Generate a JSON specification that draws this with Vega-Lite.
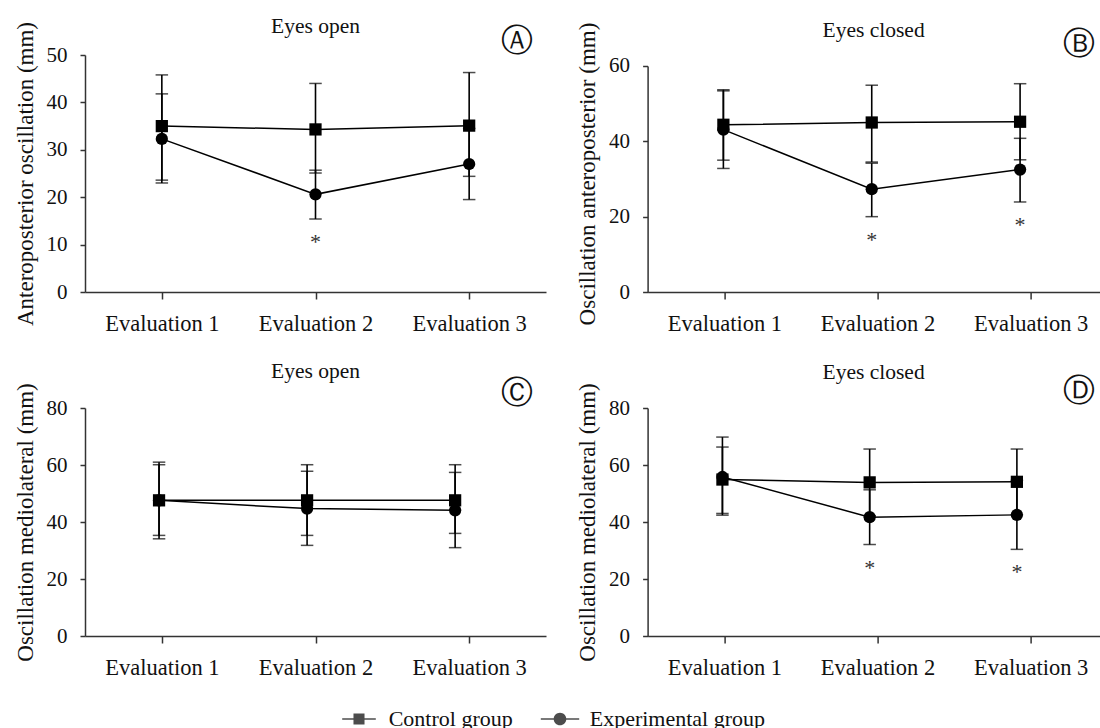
{
  "$schema": "https://vega.github.io/schema/vega-lite/v6.json",
  "padding": {"left": 13, "top": 15, "right": 0, "bottom": 0},
  "config": {
    "font": "Liberation Serif",
    "view": {"stroke": null},
    "axis": {"grid": false, "labelFontSize": 21, "labelColor": "#111", "titleColor": "#111", "domainColor": "#333", "tickColor": "#333", "titleFontWeight": "normal", "titleFontSize": 23, "domainWidth": 1.5, "tickWidth": 1.5, "labelFont": "Liberation Serif", "titleFont": "Liberation Serif"},
    "axisX": {"labelFontSize": 22.5},
    "title": {"fontSize": 21.5, "fontWeight": "normal", "font": "Liberation Serif", "color": "#111", "frame": "group", "baseline": "alphabetic"},
    "legend": {"layout": {"bottom": {"anchor": "middle"}}}
  },
  "datasets": {
    "rows": [
      {"panel": "A", "eval": "Evaluation 1", "group": "Control group", "mean": 35.0, "lo": 23.6, "hi": 45.8, "sig": ""},
      {"panel": "A", "eval": "Evaluation 2", "group": "Control group", "mean": 34.3, "lo": 25.1, "hi": 44.0, "sig": ""},
      {"panel": "A", "eval": "Evaluation 3", "group": "Control group", "mean": 35.1, "lo": 24.4, "hi": 46.3, "sig": ""},
      {"panel": "A", "eval": "Evaluation 1", "group": "Experimental group", "mean": 32.3, "lo": 23.0, "hi": 41.8, "sig": ""},
      {"panel": "A", "eval": "Evaluation 2", "group": "Experimental group", "mean": 20.6, "lo": 15.4, "hi": 25.7, "sig": "*"},
      {"panel": "A", "eval": "Evaluation 3", "group": "Experimental group", "mean": 27.0, "lo": 19.5, "hi": 34.5, "sig": ""},
      {"panel": "B", "eval": "Evaluation 1", "group": "Control group", "mean": 44.4, "lo": 35.0, "hi": 53.7, "sig": ""},
      {"panel": "B", "eval": "Evaluation 2", "group": "Control group", "mean": 45.0, "lo": 34.5, "hi": 54.9, "sig": ""},
      {"panel": "B", "eval": "Evaluation 3", "group": "Control group", "mean": 45.2, "lo": 35.1, "hi": 55.3, "sig": ""},
      {"panel": "B", "eval": "Evaluation 1", "group": "Experimental group", "mean": 43.1, "lo": 32.8, "hi": 53.4, "sig": ""},
      {"panel": "B", "eval": "Evaluation 2", "group": "Experimental group", "mean": 27.3, "lo": 20.0, "hi": 34.2, "sig": "*"},
      {"panel": "B", "eval": "Evaluation 3", "group": "Experimental group", "mean": 32.5, "lo": 23.9, "hi": 40.8, "sig": "*"},
      {"panel": "C", "eval": "Evaluation 1", "group": "Control group", "mean": 47.6, "lo": 34.1, "hi": 61.0, "sig": ""},
      {"panel": "C", "eval": "Evaluation 2", "group": "Control group", "mean": 47.6, "lo": 35.3, "hi": 60.1, "sig": ""},
      {"panel": "C", "eval": "Evaluation 3", "group": "Control group", "mean": 47.6, "lo": 36.0, "hi": 60.1, "sig": ""},
      {"panel": "C", "eval": "Evaluation 1", "group": "Experimental group", "mean": 47.6, "lo": 35.3, "hi": 60.1, "sig": ""},
      {"panel": "C", "eval": "Evaluation 2", "group": "Experimental group", "mean": 44.7, "lo": 31.8, "hi": 57.8, "sig": ""},
      {"panel": "C", "eval": "Evaluation 3", "group": "Experimental group", "mean": 44.1, "lo": 31.0, "hi": 57.4, "sig": ""},
      {"panel": "D", "eval": "Evaluation 1", "group": "Control group", "mean": 54.9, "lo": 43.0, "hi": 66.3, "sig": ""},
      {"panel": "D", "eval": "Evaluation 2", "group": "Control group", "mean": 53.9, "lo": 42.2, "hi": 65.6, "sig": ""},
      {"panel": "D", "eval": "Evaluation 3", "group": "Control group", "mean": 54.1, "lo": 42.6, "hi": 65.6, "sig": ""},
      {"panel": "D", "eval": "Evaluation 1", "group": "Experimental group", "mean": 55.8, "lo": 42.4, "hi": 69.8, "sig": ""},
      {"panel": "D", "eval": "Evaluation 2", "group": "Experimental group", "mean": 41.7, "lo": 32.1, "hi": 51.3, "sig": "*"},
      {"panel": "D", "eval": "Evaluation 3", "group": "Experimental group", "mean": 42.5, "lo": 30.4, "hi": 54.6, "sig": "*"}
    ]
  },
  "spacing": 25,
  "vconcat": [
    {
      "spacing": 29.6,
      "hconcat": [
        {
          "width": 461, "height": 237,
          "title": {"text": "Eyes open", "offset": -16},
          "data": {"name": "rows"},
          "transform": [{"filter": "datum.panel == 'A'"}],
          "resolve": {"scale": {"x": "independent"}, "axis": {"x": "independent", "y": "independent"}},
          "layer": [
            {
              "transform": [{"filter": "false"}],
              "mark": {"type": "point", "filled": true, "color": "black"},
              "encoding": {
                "x": {"field": "eval", "type": "nominal", "scale": {"type": "point", "domain": ["Evaluation 1", "Evaluation 2", "Evaluation 3"], "padding": 0.5}, "axis": {"title": null, "labelAngle": 0, "tickSize": 7, "labelPadding": 13.4}},
                "y": {"field": "mean", "type": "quantitative", "scale": {"domain": [0, 50], "nice": false}, "axis": {"orient": "left", "title": "Anteroposterior oscillation (mm)", "values": [0, 10, 20, 30, 40, 50], "tickSize": 5, "labelPadding": 13, "titlePadding": 9}},
                "shape": {"field": "group", "type": "nominal", "scale": {"domain": ["Control group", "Experimental group"], "range": ["M-2.1,-0.09H2.1V0.09H-2.1ZM-0.69,-0.69H0.69V0.69H-0.69Z", "M-2.4,-0.09H2.4V0.09H-2.4ZM0.79,0A0.79,0.79,0,1,1,-0.79,0A0.79,0.79,0,1,1,0.79,0Z"]}, "legend": {"title": null, "orient": "bottom", "direction": "horizontal", "symbolSize": 256, "labelFontSize": 22, "labelColor": "#111", "labelLimit": 0, "labelOffset": 18.7, "columnPadding": 27, "symbolFillColor": "black", "symbolStrokeWidth": 0, "offset": 29}}
              }
            },
            {
              "mark": {"type": "rule", "color": "black", "strokeWidth": 1.6},
              "encoding": {
                "x": {"field": "eval", "type": "nominal", "scale": {"type": "point", "domain": ["Evaluation 1", "Evaluation 2", "Evaluation 3"], "padding": 0.5}, "axis": null},
                "y": {"field": "lo", "type": "quantitative", "axis": null},
                "y2": {"field": "hi"}
              }
            },
            {
              "mark": {"type": "tick", "color": "black", "thickness": 1.5, "size": 12.5},
              "encoding": {
                "x": {"field": "eval", "type": "nominal", "scale": {"type": "point", "domain": ["Evaluation 1", "Evaluation 2", "Evaluation 3"], "padding": 0.5}, "axis": null},
                "y": {"field": "lo", "type": "quantitative", "axis": null}
              }
            },
            {
              "mark": {"type": "tick", "color": "black", "thickness": 1.5, "size": 12.5},
              "encoding": {
                "x": {"field": "eval", "type": "nominal", "scale": {"type": "point", "domain": ["Evaluation 1", "Evaluation 2", "Evaluation 3"], "padding": 0.5}, "axis": null},
                "y": {"field": "hi", "type": "quantitative", "axis": null}
              }
            },
            {
              "mark": {"type": "line", "color": "black", "strokeWidth": 1.5},
              "encoding": {
                "x": {"field": "eval", "type": "nominal", "scale": {"type": "point", "domain": ["Evaluation 1", "Evaluation 2", "Evaluation 3"], "padding": 0.5}, "axis": {"orient": "top", "domain": false, "ticks": false, "labels": false, "title": "Ⓐ", "titleFont": "DejaVu Sans", "titleFontSize": 32, "titleX": 431, "titleY": -14.6, "titleAlign": "center", "titleBaseline": "middle"}},
                "y": {"field": "mean", "type": "quantitative", "axis": null},
                "detail": {"field": "group"}
              }
            },
            {
              "mark": {"type": "point", "filled": true, "color": "black", "size": 150, "opacity": 1},
              "encoding": {
                "x": {"field": "eval", "type": "nominal", "scale": {"type": "point", "domain": ["Evaluation 1", "Evaluation 2", "Evaluation 3"], "padding": 0.5}, "axis": null},
                "y": {"field": "mean", "type": "quantitative", "axis": null},
                "shape": {"condition": {"test": "datum.group == 'Control group'", "value": "square"}, "value": "circle"}
              }
            },
            {
              "mark": {"type": "text", "fontSize": 22, "dy": 23, "baseline": "middle", "color": "#333"},
              "encoding": {
                "x": {"field": "eval", "type": "nominal", "scale": {"type": "point", "domain": ["Evaluation 1", "Evaluation 2", "Evaluation 3"], "padding": 0.5}, "axis": null},
                "y": {"field": "lo", "type": "quantitative", "axis": null},
                "text": {"field": "sig"}
              }
            }
          ]
        },
        {
          "width": 452, "height": 237,
          "title": {"text": "Eyes closed", "offset": -19.5},
          "data": {"name": "rows"},
          "transform": [{"filter": "datum.panel == 'B'"}],
          "resolve": {"scale": {"x": "independent"}, "axis": {"x": "independent", "y": "independent"}},
          "layer": [
            {
              "transform": [{"filter": "false"}],
              "mark": {"type": "point", "filled": true, "color": "black"},
              "encoding": {
                "x": {"field": "eval", "type": "nominal", "scale": {"type": "point", "domain": ["Evaluation 1", "Evaluation 2", "Evaluation 3"], "padding": 0.476, "align": 0.527}, "axis": {"title": null, "labelAngle": 0, "tickSize": 7, "labelPadding": 13.4}},
                "y": {"field": "mean", "type": "quantitative", "scale": {"domain": [0, 62.92], "nice": false}, "axis": {"orient": "left", "title": "Oscillation anteroposterior (mm)", "values": [0, 20, 40, 60], "tickSize": 5, "labelPadding": 13, "titlePadding": 9, "domainDash": [226, 40]}}
              }
            },
            {
              "mark": {"type": "rule", "color": "black", "strokeWidth": 1.6},
              "encoding": {
                "x": {"field": "eval", "type": "nominal", "scale": {"type": "point", "domain": ["Evaluation 1", "Evaluation 2", "Evaluation 3"], "padding": 0.5234, "align": 0.488}, "axis": null},
                "y": {"field": "lo", "type": "quantitative", "axis": null},
                "y2": {"field": "hi"}
              }
            },
            {
              "mark": {"type": "tick", "color": "black", "thickness": 1.5, "size": 12.5},
              "encoding": {
                "x": {"field": "eval", "type": "nominal", "scale": {"type": "point", "domain": ["Evaluation 1", "Evaluation 2", "Evaluation 3"], "padding": 0.5234, "align": 0.488}, "axis": null},
                "y": {"field": "lo", "type": "quantitative", "axis": null}
              }
            },
            {
              "mark": {"type": "tick", "color": "black", "thickness": 1.5, "size": 12.5},
              "encoding": {
                "x": {"field": "eval", "type": "nominal", "scale": {"type": "point", "domain": ["Evaluation 1", "Evaluation 2", "Evaluation 3"], "padding": 0.5234, "align": 0.488}, "axis": null},
                "y": {"field": "hi", "type": "quantitative", "axis": null}
              }
            },
            {
              "mark": {"type": "line", "color": "black", "strokeWidth": 1.5},
              "encoding": {
                "x": {"field": "eval", "type": "nominal", "scale": {"type": "point", "domain": ["Evaluation 1", "Evaluation 2", "Evaluation 3"], "padding": 0.5234, "align": 0.488}, "axis": {"orient": "top", "domain": false, "ticks": false, "labels": false, "title": "Ⓑ", "titleFont": "DejaVu Sans", "titleFontSize": 32, "titleX": 431, "titleY": -11.7, "titleAlign": "center", "titleBaseline": "middle"}},
                "y": {"field": "mean", "type": "quantitative", "axis": null},
                "detail": {"field": "group"}
              }
            },
            {
              "mark": {"type": "point", "filled": true, "color": "black", "size": 150, "opacity": 1},
              "encoding": {
                "x": {"field": "eval", "type": "nominal", "scale": {"type": "point", "domain": ["Evaluation 1", "Evaluation 2", "Evaluation 3"], "padding": 0.5234, "align": 0.488}, "axis": null},
                "y": {"field": "mean", "type": "quantitative", "axis": null},
                "shape": {"condition": {"test": "datum.group == 'Control group'", "value": "square"}, "value": "circle"}
              }
            },
            {
              "mark": {"type": "text", "fontSize": 22, "dy": 23, "baseline": "middle", "color": "#333"},
              "encoding": {
                "x": {"field": "eval", "type": "nominal", "scale": {"type": "point", "domain": ["Evaluation 1", "Evaluation 2", "Evaluation 3"], "padding": 0.5234, "align": 0.488}, "axis": null},
                "y": {"field": "lo", "type": "quantitative", "axis": null},
                "text": {"field": "sig"}
              }
            }
          ]
        }
      ]
    },
    {
      "spacing": 29.6,
      "hconcat": [
        {
          "width": 461, "height": 228,
          "title": {"text": "Eyes open", "offset": -6},
          "data": {"name": "rows"},
          "transform": [{"filter": "datum.panel == 'C'"}],
          "resolve": {"scale": {"x": "independent"}, "axis": {"x": "independent", "y": "independent"}},
          "layer": [
            {
              "transform": [{"filter": "false"}],
              "mark": {"type": "point", "filled": true, "color": "black"},
              "encoding": {
                "x": {"field": "eval", "type": "nominal", "scale": {"type": "point", "domain": ["Evaluation 1", "Evaluation 2", "Evaluation 3"], "padding": 0.5}, "axis": {"title": null, "labelAngle": 0, "tickSize": 7, "labelPadding": 13.4}},
                "y": {"field": "mean", "type": "quantitative", "scale": {"domain": [0, 80], "nice": false}, "axis": {"orient": "left", "title": "Oscillation mediolateral (mm)", "values": [0, 20, 40, 60, 80], "tickSize": 5, "labelPadding": 13, "titlePadding": 9}}
              }
            },
            {
              "mark": {"type": "rule", "color": "black", "strokeWidth": 1.6},
              "encoding": {
                "x": {"field": "eval", "type": "nominal", "scale": {"type": "point", "domain": ["Evaluation 1", "Evaluation 2", "Evaluation 3"], "padding": 0.557, "align": 0.449}, "axis": null},
                "y": {"field": "lo", "type": "quantitative", "axis": null},
                "y2": {"field": "hi"}
              }
            },
            {
              "mark": {"type": "tick", "color": "black", "thickness": 1.5, "size": 12.5},
              "encoding": {
                "x": {"field": "eval", "type": "nominal", "scale": {"type": "point", "domain": ["Evaluation 1", "Evaluation 2", "Evaluation 3"], "padding": 0.557, "align": 0.449}, "axis": null},
                "y": {"field": "lo", "type": "quantitative", "axis": null}
              }
            },
            {
              "mark": {"type": "tick", "color": "black", "thickness": 1.5, "size": 12.5},
              "encoding": {
                "x": {"field": "eval", "type": "nominal", "scale": {"type": "point", "domain": ["Evaluation 1", "Evaluation 2", "Evaluation 3"], "padding": 0.557, "align": 0.449}, "axis": null},
                "y": {"field": "hi", "type": "quantitative", "axis": null}
              }
            },
            {
              "mark": {"type": "line", "color": "black", "strokeWidth": 1.5},
              "encoding": {
                "x": {"field": "eval", "type": "nominal", "scale": {"type": "point", "domain": ["Evaluation 1", "Evaluation 2", "Evaluation 3"], "padding": 0.557, "align": 0.449}, "axis": {"orient": "top", "domain": false, "ticks": false, "labels": false, "title": "Ⓒ", "titleFont": "DejaVu Sans", "titleFontSize": 32, "titleX": 431, "titleY": -15.6, "titleAlign": "center", "titleBaseline": "middle"}},
                "y": {"field": "mean", "type": "quantitative", "axis": null},
                "detail": {"field": "group"}
              }
            },
            {
              "mark": {"type": "point", "filled": true, "color": "black", "size": 150, "opacity": 1},
              "encoding": {
                "x": {"field": "eval", "type": "nominal", "scale": {"type": "point", "domain": ["Evaluation 1", "Evaluation 2", "Evaluation 3"], "padding": 0.557, "align": 0.449}, "axis": null},
                "y": {"field": "mean", "type": "quantitative", "axis": null},
                "shape": {"condition": {"test": "datum.group == 'Control group'", "value": "square"}, "value": "circle"}
              }
            },
            {
              "mark": {"type": "text", "fontSize": 22, "dy": 23, "baseline": "middle", "color": "#333"},
              "encoding": {
                "x": {"field": "eval", "type": "nominal", "scale": {"type": "point", "domain": ["Evaluation 1", "Evaluation 2", "Evaluation 3"], "padding": 0.557, "align": 0.449}, "axis": null},
                "y": {"field": "lo", "type": "quantitative", "axis": null},
                "text": {"field": "sig"}
              }
            }
          ]
        },
        {
          "width": 452, "height": 228,
          "title": {"text": "Eyes closed", "offset": -9.4},
          "data": {"name": "rows"},
          "transform": [{"filter": "datum.panel == 'D'"}],
          "resolve": {"scale": {"x": "independent"}, "axis": {"x": "independent", "y": "independent"}},
          "layer": [
            {
              "transform": [{"filter": "false"}],
              "mark": {"type": "point", "filled": true, "color": "black"},
              "encoding": {
                "x": {"field": "eval", "type": "nominal", "scale": {"type": "point", "domain": ["Evaluation 1", "Evaluation 2", "Evaluation 3"], "padding": 0.476, "align": 0.527}, "axis": {"title": null, "labelAngle": 0, "tickSize": 7, "labelPadding": 13.4}},
                "y": {"field": "mean", "type": "quantitative", "scale": {"domain": [0, 80], "nice": false}, "axis": {"orient": "left", "title": "Oscillation mediolateral (mm)", "values": [0, 20, 40, 60, 80], "tickSize": 5, "labelPadding": 13, "titlePadding": 9}}
              }
            },
            {
              "mark": {"type": "rule", "color": "black", "strokeWidth": 1.6},
              "encoding": {
                "x": {"field": "eval", "type": "nominal", "scale": {"type": "point", "domain": ["Evaluation 1", "Evaluation 2", "Evaluation 3"], "padding": 0.535, "align": 0.475}, "axis": null},
                "y": {"field": "lo", "type": "quantitative", "axis": null},
                "y2": {"field": "hi"}
              }
            },
            {
              "mark": {"type": "tick", "color": "black", "thickness": 1.5, "size": 12.5},
              "encoding": {
                "x": {"field": "eval", "type": "nominal", "scale": {"type": "point", "domain": ["Evaluation 1", "Evaluation 2", "Evaluation 3"], "padding": 0.535, "align": 0.475}, "axis": null},
                "y": {"field": "lo", "type": "quantitative", "axis": null}
              }
            },
            {
              "mark": {"type": "tick", "color": "black", "thickness": 1.5, "size": 12.5},
              "encoding": {
                "x": {"field": "eval", "type": "nominal", "scale": {"type": "point", "domain": ["Evaluation 1", "Evaluation 2", "Evaluation 3"], "padding": 0.535, "align": 0.475}, "axis": null},
                "y": {"field": "hi", "type": "quantitative", "axis": null}
              }
            },
            {
              "mark": {"type": "line", "color": "black", "strokeWidth": 1.5},
              "encoding": {
                "x": {"field": "eval", "type": "nominal", "scale": {"type": "point", "domain": ["Evaluation 1", "Evaluation 2", "Evaluation 3"], "padding": 0.535, "align": 0.475}, "axis": {"orient": "top", "domain": false, "ticks": false, "labels": false, "title": "Ⓓ", "titleFont": "DejaVu Sans", "titleFontSize": 32, "titleX": 431, "titleY": -17.6, "titleAlign": "center", "titleBaseline": "middle"}},
                "y": {"field": "mean", "type": "quantitative", "axis": null},
                "detail": {"field": "group"}
              }
            },
            {
              "mark": {"type": "point", "filled": true, "color": "black", "size": 150, "opacity": 1},
              "encoding": {
                "x": {"field": "eval", "type": "nominal", "scale": {"type": "point", "domain": ["Evaluation 1", "Evaluation 2", "Evaluation 3"], "padding": 0.535, "align": 0.475}, "axis": null},
                "y": {"field": "mean", "type": "quantitative", "axis": null},
                "shape": {"condition": {"test": "datum.group == 'Control group'", "value": "square"}, "value": "circle"}
              }
            },
            {
              "mark": {"type": "text", "fontSize": 22, "dy": 23, "baseline": "middle", "color": "#333"},
              "encoding": {
                "x": {"field": "eval", "type": "nominal", "scale": {"type": "point", "domain": ["Evaluation 1", "Evaluation 2", "Evaluation 3"], "padding": 0.535, "align": 0.475}, "axis": null},
                "y": {"field": "lo", "type": "quantitative", "axis": null},
                "text": {"field": "sig"}
              }
            }
          ]
        }
      ]
    }
  ]
}
